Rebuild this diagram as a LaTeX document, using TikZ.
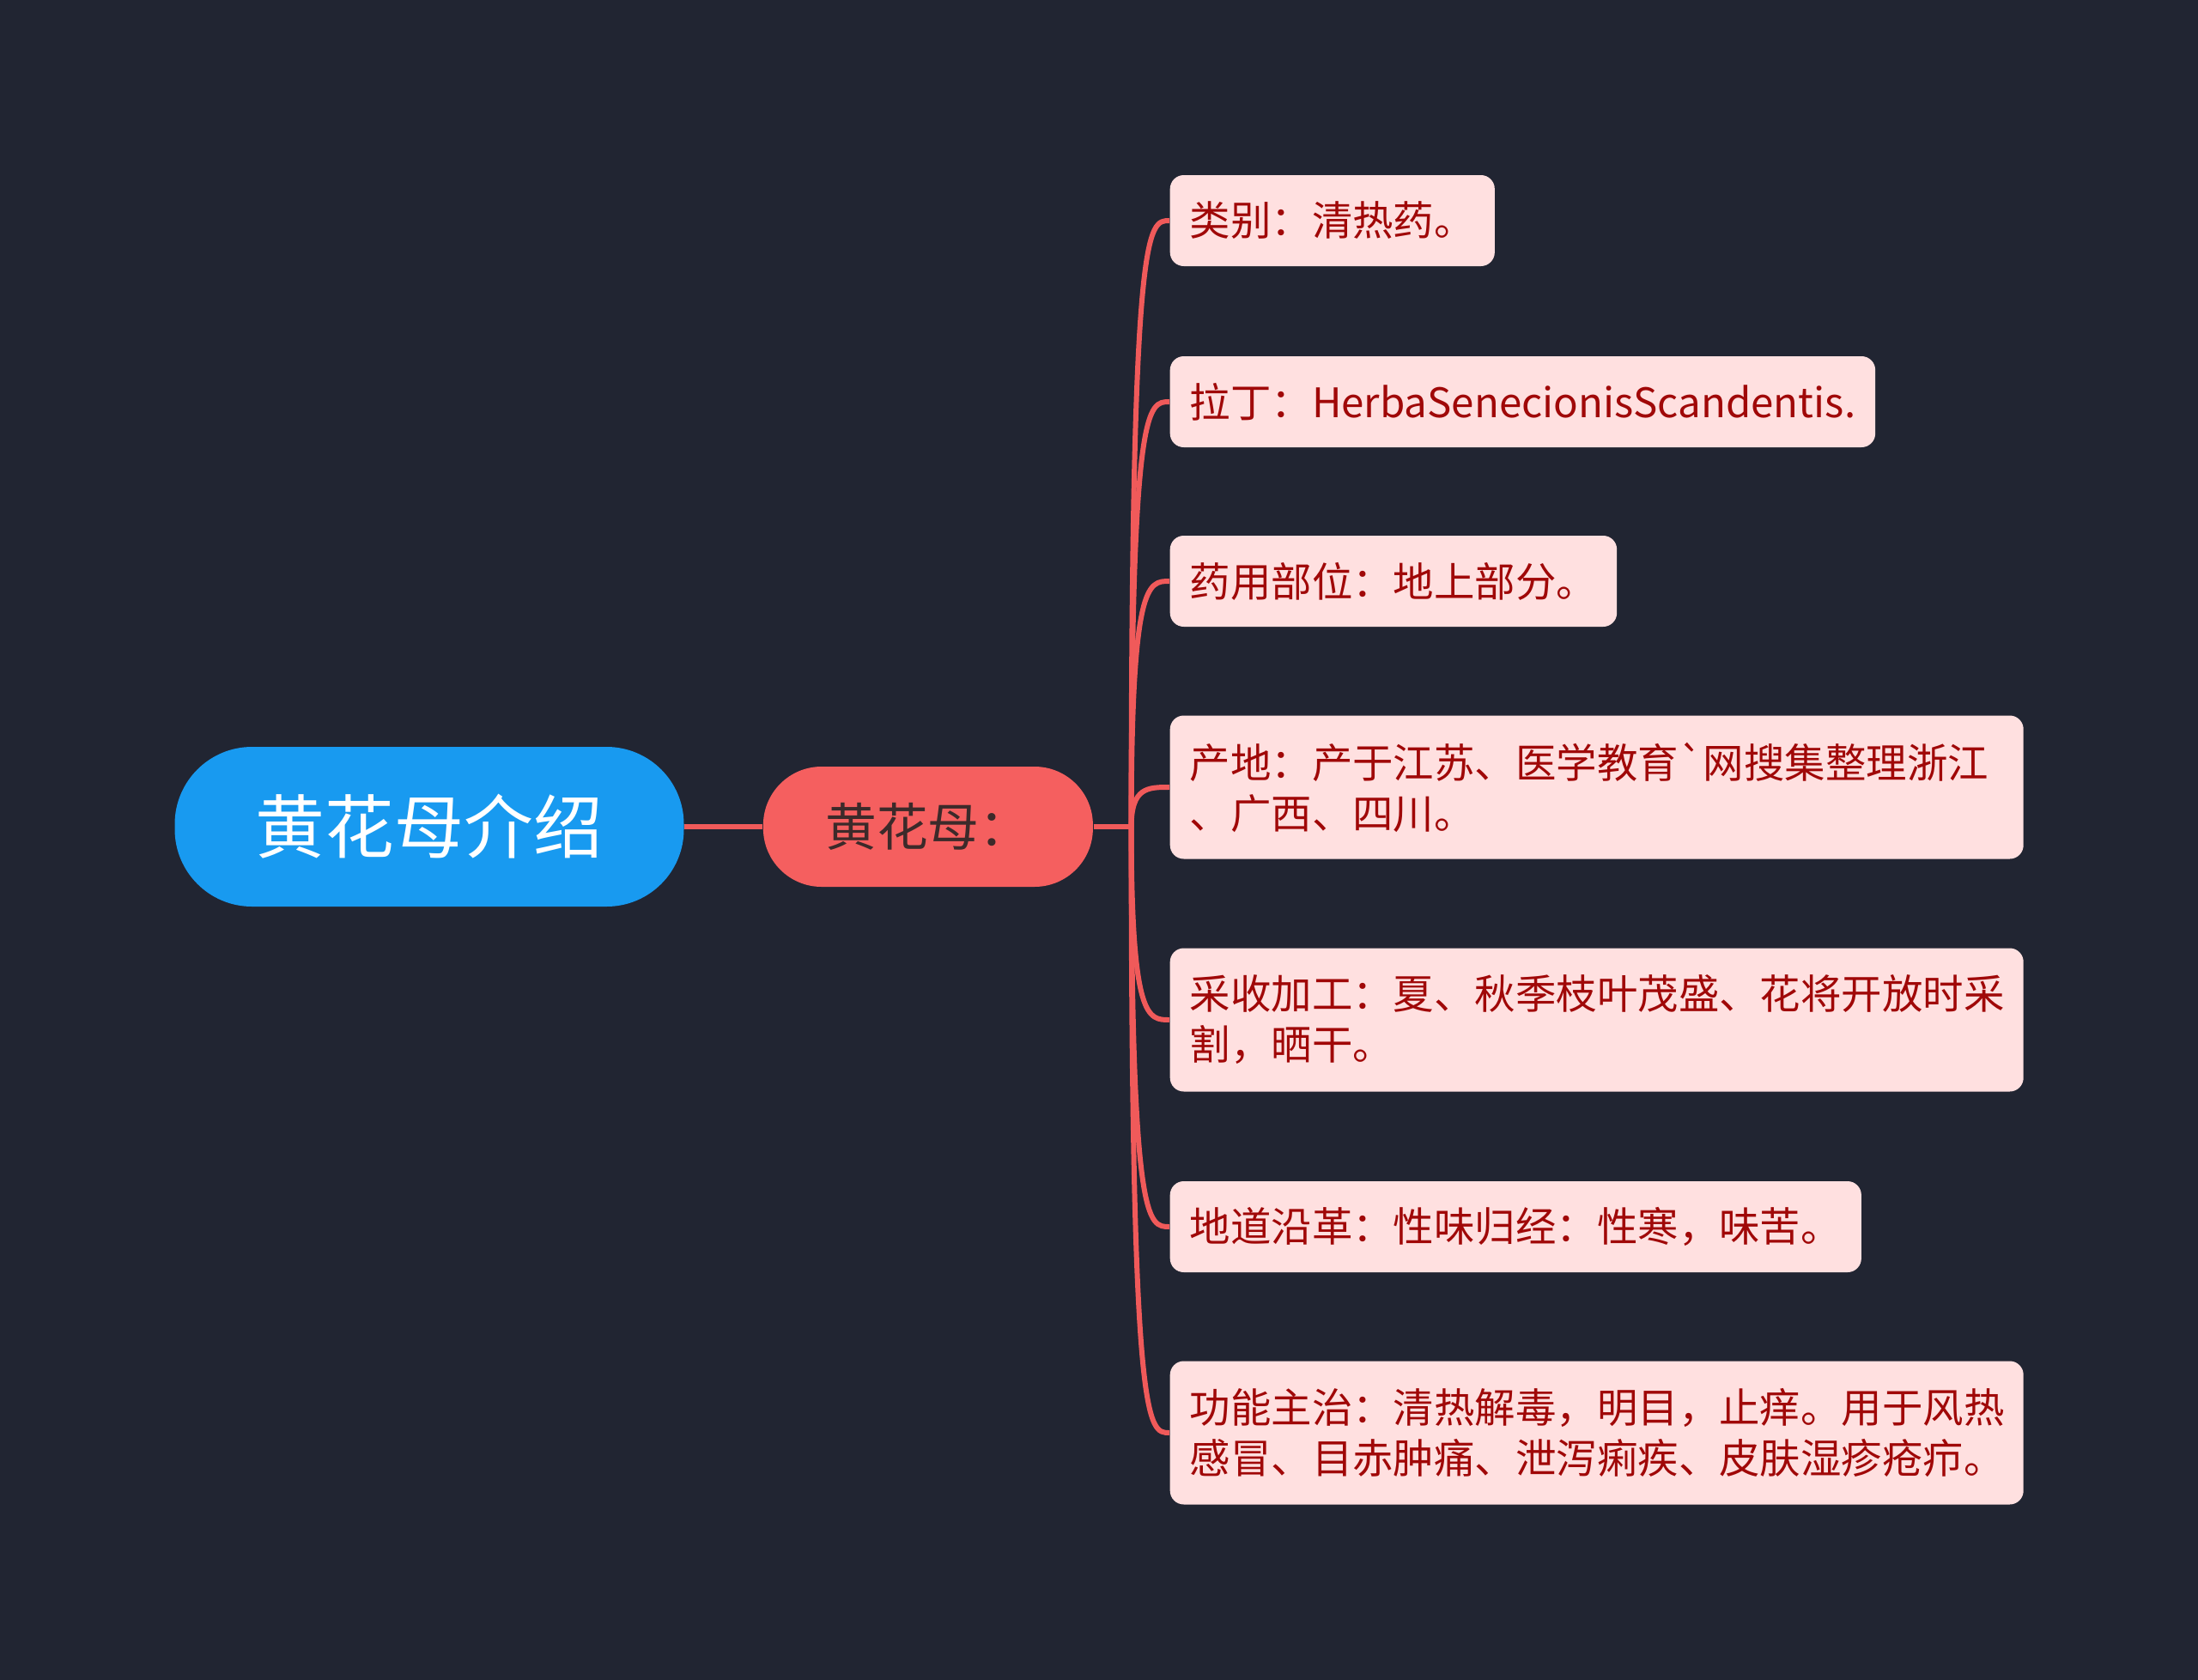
\documentclass[tikz,border=0pt]{standalone}
\usepackage{fontspec}
\setmainfont{Noto Sans CJK SC}[Ligatures=TeXOff]
\usetikzlibrary{positioning, calc}
\definecolor{bgdark}{RGB}{33, 37, 50}
\definecolor{rootblue}{RGB}{24, 154, 240}
\definecolor{midred}{RGB}{245, 95, 95}
\definecolor{leafpink}{RGB}{255, 224, 224}
\definecolor{leaftext}{RGB}{160, 8, 8}
\definecolor{midtext}{RGB}{60, 42, 42}
\definecolor{linkred}{RGB}{240, 90, 90}

\begin{document}
\begin{tikzpicture}[
    rootnode/.style={fill=rootblue, text=white, rounded corners=0.9cm,
                minimum width=5.93cm, minimum height=1.86cm, font=\fontsize{23}{28}\selectfont},
    midnode/.style={fill=midred, text=midtext, rounded corners=0.68cm,
                minimum width=3.84cm, minimum height=1.40cm, font=\fontsize{17}{21}\selectfont},
    leaf/.style={fill=leafpink, text=leaftext, rounded corners=0.16cm, anchor=west,
                align=left, inner xsep=0.23cm, minimum height=1.06cm,
                font=\fontsize{13.5}{16.8}\selectfont},
    leafwide/.style={leaf, text width=9.48cm, minimum height=1.67cm},
    link/.style={draw=linkred, line width=1.7pt}
]
    \fill[bgdark] (0,0) rectangle (25.6,-19.57);
    \useasboundingbox (0,0) rectangle (25.6,-19.57);

    \node[rootnode] (root) at (5.00,-9.63) {黄花母介绍};
    \node[midnode, right=0.91cm of root] (mid) {黄花母：};
    \coordinate[right=0.44cm of mid] (hub);

    \node[leaf] (l1) at (13.62,-2.57) {类别：清热药。};
    \node[leaf] (l2) at (13.62,-4.68) {拉丁：HerbaSenecionisScandentis.};
    \node[leaf] (l3) at (13.62,-6.77) {药用部位：地上部分。};
    \node[leafwide] (l4) at (13.62,-9.17) {产地：产于江苏、医学教育`网搜集整理浙江\\、广西、四川。};
    \node[leafwide] (l5) at (13.62,-11.88) {采收加工：夏、秋季枝叶茂盛、花将开放时采\\割，晒干。};
    \node[leaf] (l6) at (13.62,-14.29) {地道沿革：性味归经：性寒，味苦。};
    \node[leafwide] (l7) at (13.62,-16.69) {功能主治：清热解毒，明目，止痒。用于风热\\感冒、目赤肿痛、泄泻痢疾、皮肤湿疹疮疖。};

    \draw[link] (root) -- (mid);
    \draw[link] (mid) -- (hub);
    \draw[link] (hub) .. controls (hub |- l1.west) and ([xshift=-0.25cm]l1.west) .. (l1.west);
    \draw[link] (hub) .. controls (hub |- l2.west) and ([xshift=-0.25cm]l2.west) .. (l2.west);
    \draw[link] (hub) .. controls (hub |- l3.west) and ([xshift=-0.25cm]l3.west) .. (l3.west);
    \draw[link] (hub) .. controls (hub |- l4.west) and ([xshift=-0.25cm]l4.west) .. (l4.west);
    \draw[link] (hub) .. controls (hub |- l5.west) and ([xshift=-0.25cm]l5.west) .. (l5.west);
    \draw[link] (hub) .. controls (hub |- l6.west) and ([xshift=-0.25cm]l6.west) .. (l6.west);
    \draw[link] (hub) .. controls (hub |- l7.west) and ([xshift=-0.25cm]l7.west) .. (l7.west);
\end{tikzpicture}
\end{document}
